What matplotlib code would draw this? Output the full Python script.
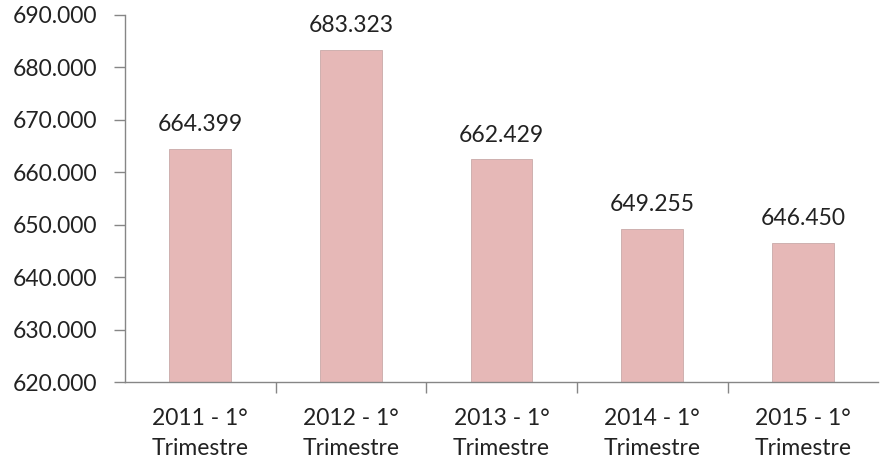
import matplotlib.pyplot as plt
from matplotlib.ticker import FuncFormatter, FixedLocator

# -------------------- DATOS --------------------
periodos = ["2011 - 1°\nTrimestre", "2012 - 1°\nTrimestre", "2013 - 1°\nTrimestre",
            "2014 - 1°\nTrimestre", "2015 - 1°\nTrimestre"]
valores = [664399, 683323, 662429, 649255, 646450]
y_ticks = [620000, 630000, 640000, 650000, 660000, 670000, 680000, 690000]

plt.rcParams['font.family'] = ['Lato', 'DejaVu Sans']

def miles(v, pos=None):
    return f"{v:,.0f}".replace(",", ".")

# -------------------- FIGURA --------------------
fig = plt.figure(figsize=(8.8, 4.62), dpi=100)
ax = fig.add_axes([0.142, 0.173, 0.856, 0.795])

x = range(len(valores))
bars = ax.bar(x, valores, width=0.41, color='#E6B8B7', edgecolor='#C9A9A8', linewidth=0.6)

ax.set_xlim(-0.5, len(valores) - 0.5)
ax.set_ylim(620000, 690000)
ax.set_yticks(y_ticks)
ax.yaxis.set_major_formatter(FuncFormatter(miles))

ax.set_xticks(list(x))
ax.set_xticklabels(periodos, linespacing=1.5)
ax.xaxis.set_minor_locator(FixedLocator([i + 0.5 for i in range(len(valores) - 1)]))
ax.tick_params(axis='x', which='major', length=0, pad=19, labelsize=16.5, colors='#222222')
ax.tick_params(axis='x', which='minor', length=8, width=1, color='#868686', direction='out')
ax.tick_params(axis='y', length=8, width=1, color='#868686', pad=12, labelsize=16.5,
               labelcolor='#222222')

for s in ['top', 'right']:
    ax.spines[s].set_visible(False)
for s in ['left', 'bottom']:
    ax.spines[s].set_color('#868686')
    ax.spines[s].set_linewidth(1)

# etiquetas de valor
for b, v in zip(bars, valores):
    ax.annotate(miles(v), (b.get_x() + b.get_width() / 2, v), xytext=(0, 10),
                textcoords='offset points', ha='center', va='bottom', fontsize=16.5,
                color='#222222')

fig.savefig('out.png', dpi=100)
